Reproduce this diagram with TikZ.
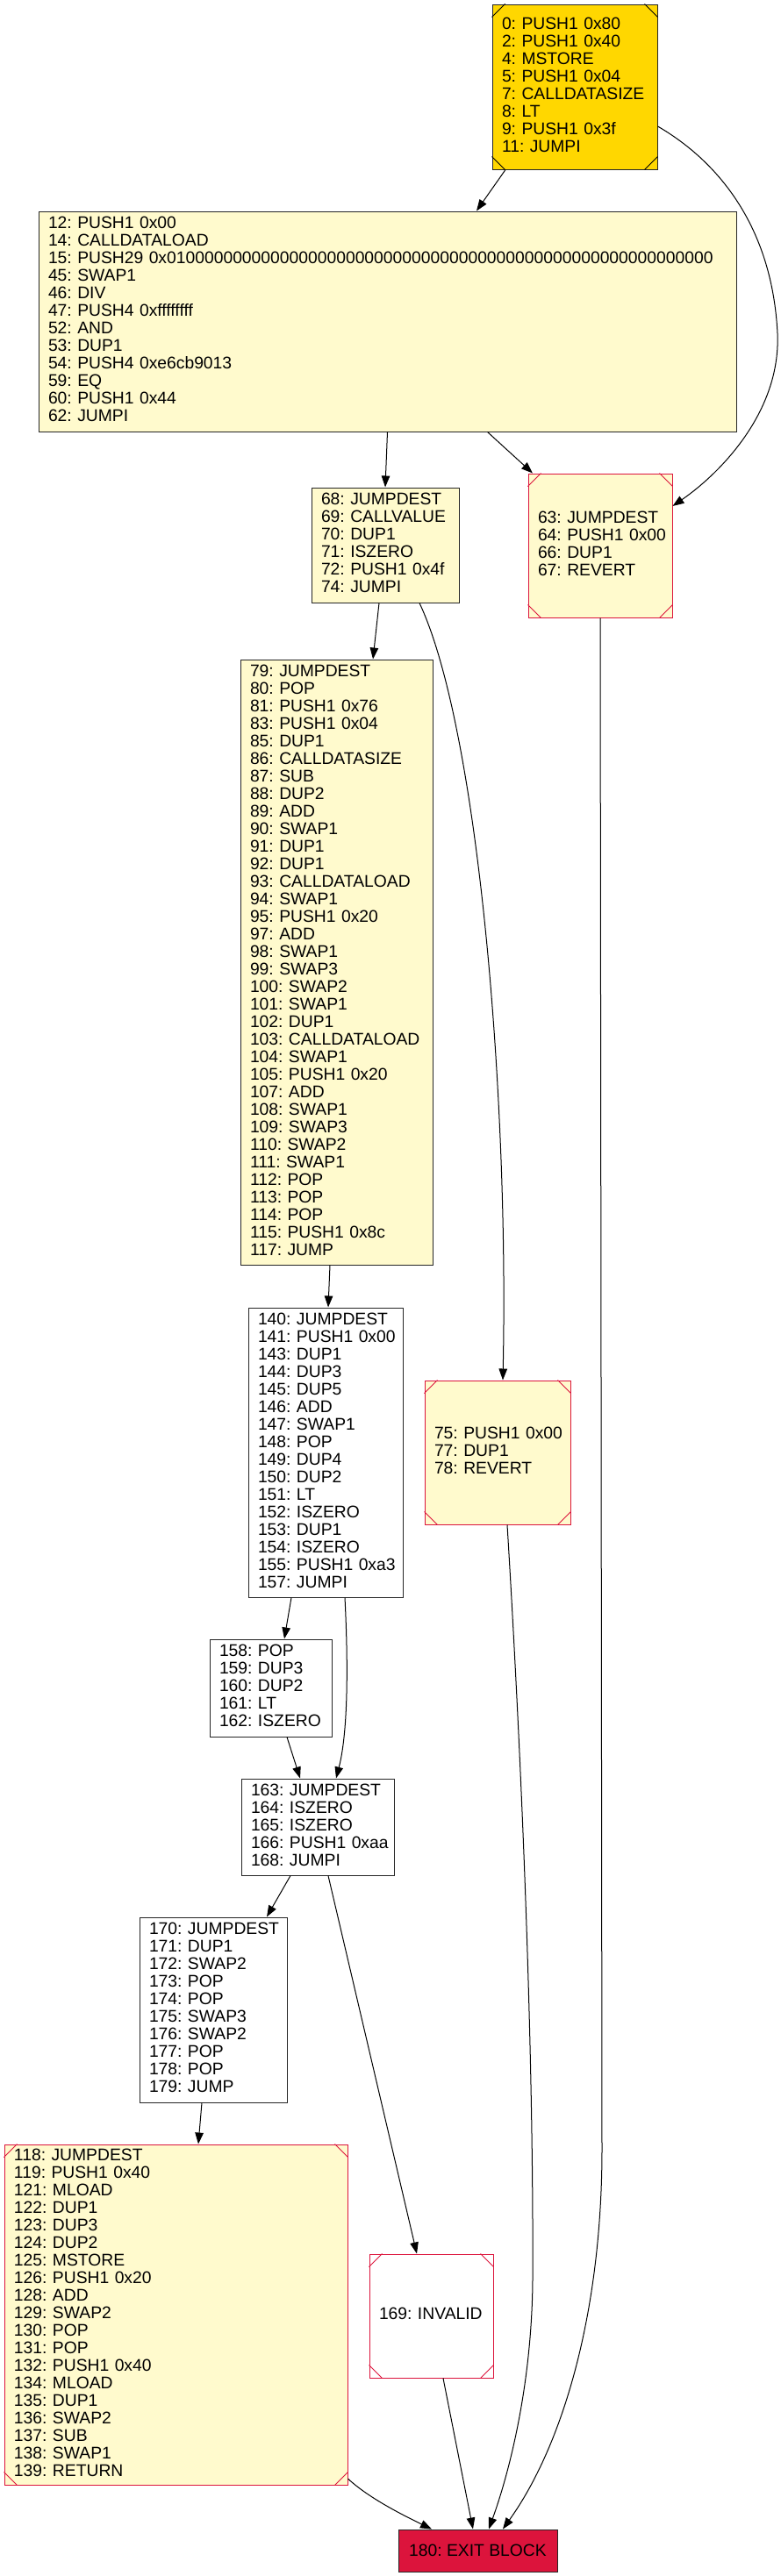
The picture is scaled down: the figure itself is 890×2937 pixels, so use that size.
\documentclass[tikz,border=0pt]{standalone}
\usepackage{fontspec}
\setmainfont{Liberation Sans}
\usetikzlibrary{arrows.meta,calc}
\definecolor{lemon}{HTML}{FFFACD}
\definecolor{goldc}{HTML}{FFD700}
\definecolor{crim}{HTML}{DC143C}
\frenchspacing
\newcommand\msqcorners[2]{%
  \draw[#2,line width=1pt] ($(#1.north west)+(15,0)$) -- ($(#1.north west)+(0,15)$);
  \draw[#2,line width=1pt] ($(#1.north east)+(-15,0)$) -- ($(#1.north east)+(0,15)$);
  \draw[#2,line width=1pt] ($(#1.south west)+(15,0)$) -- ($(#1.south west)+(0,-15)$);
  \draw[#2,line width=1pt] ($(#1.south east)+(-15,0)$) -- ($(#1.south east)+(0,-15)$);
}
\newcommand\lines[1]{\begin{tabular}{@{}l@{}}#1\end{tabular}}
\begin{document}
\begin{tikzpicture}[x=1pt,y=-1pt,
  blk/.style={draw=black!85, line width=1pt, fill=white, align=left,
    inner xsep=11pt, inner ysep=0pt, anchor=center,
    font=\fontsize{19.3}{20}\selectfont\frenchspacing},
  redblk/.style={blk, draw=crim},
  edge/.style={draw=black, line width=1pt, -{Triangle[length=13pt,width=9.5pt]}}]
\useasboundingbox (0,0) rectangle (890,2937);
\fill[white] (0,0) rectangle (890,2937);

\node[blk, fill=goldc, text width=166pt, minimum height=188pt] (b0) at (655,99)
 {\lines{0: PUSH1 0x80\\2: PUSH1 0x40\\4: MSTORE\\5: PUSH1 0x04\\7: CALLDATASIZE\\8: LT\\9: PUSH1 0x3f\\11: JUMPI}};
\msqcorners{b0}{black}

\node[blk, fill=lemon, text width=773pt, minimum height=251pt] (b12) at (441.5,366.5)
 {\lines{12: PUSH1 0x00\\14: CALLDATALOAD\\15: PUSH29 0x0100000000000000000000000000000000000000000000000000000000\\45: SWAP1\\46: DIV\\47: PUSH4 0xffffffff\\52: AND\\53: DUP1\\54: PUSH4 0xe6cb9013\\59: EQ\\60: PUSH1 0x44\\62: JUMPI}};

\node[blk, fill=lemon, text width=146pt, minimum height=131pt] (b68) at (439,621.5)
 {\lines{68: JUMPDEST\\69: CALLVALUE\\70: DUP1\\71: ISZERO\\72: PUSH1 0x4f\\74: JUMPI}};

\node[redblk, fill=lemon, text width=142pt, minimum height=164pt] (b63) at (684,622)
 {\lines{63: JUMPDEST\\64: PUSH1 0x00\\66: DUP1\\67: REVERT}};
\msqcorners{b63}{crim}

\node[blk, fill=lemon, text width=197pt, minimum height=690pt] (b79) at (383.5,1097)
 {\lines{79: JUMPDEST\\80: POP\\81: PUSH1 0x76\\83: PUSH1 0x04\\85: DUP1\\86: CALLDATASIZE\\87: SUB\\88: DUP2\\89: ADD\\90: SWAP1\\91: DUP1\\92: DUP1\\93: CALLDATALOAD\\94: SWAP1\\95: PUSH1 0x20\\97: ADD\\98: SWAP1\\99: SWAP3\\100: SWAP2\\101: SWAP1\\102: DUP1\\103: CALLDATALOAD\\104: SWAP1\\105: PUSH1 0x20\\107: ADD\\108: SWAP1\\109: SWAP3\\110: SWAP2\\111: SWAP1\\112: POP\\113: POP\\114: POP\\115: PUSH1 0x8c\\117: JUMP}};

\node[blk, text width=154pt, minimum height=330pt] (b140) at (371,1656)
 {\lines{140: JUMPDEST\\141: PUSH1 0x00\\143: DUP1\\144: DUP3\\145: DUP5\\146: ADD\\147: SWAP1\\148: POP\\149: DUP4\\150: DUP2\\151: LT\\152: ISZERO\\153: DUP1\\154: ISZERO\\155: PUSH1 0xa3\\157: JUMPI}};

\node[redblk, fill=lemon, text width=144pt, minimum height=164pt] (b75) at (567,1656)
 {\lines{75: PUSH1 0x00\\77: DUP1\\78: REVERT}};
\msqcorners{b75}{crim}

\node[blk, text width=117pt, minimum height=111pt] (b158) at (308.5,1924.5)
 {\lines{158: POP\\159: DUP3\\160: DUP2\\161: LT\\162: ISZERO}};

\node[blk, text width=152pt, minimum height=110pt] (b163) at (362,2083)
 {\lines{163: JUMPDEST\\164: ISZERO\\165: ISZERO\\166: PUSH1 0xaa\\168: JUMPI}};

\node[blk, text width=146pt, minimum height=211pt] (b170) at (243,2291.5)
 {\lines{170: JUMPDEST\\171: DUP1\\172: SWAP2\\173: POP\\174: POP\\175: SWAP3\\176: SWAP2\\177: POP\\178: POP\\179: JUMP}};

\node[redblk, fill=lemon, text width=369pt, minimum height=388pt] (b118) at (200.5,2639)
 {\lines{118: JUMPDEST\\119: PUSH1 0x40\\121: MLOAD\\122: DUP1\\123: DUP3\\124: DUP2\\125: MSTORE\\126: PUSH1 0x20\\128: ADD\\129: SWAP2\\130: POP\\131: POP\\132: PUSH1 0x40\\134: MLOAD\\135: DUP1\\136: SWAP2\\137: SUB\\138: SWAP1\\139: RETURN}};
\msqcorners{b118}{crim}

\node[redblk, text width=119pt, minimum height=141pt] (b169) at (491.5,2640.5)
 {\lines{169: INVALID}};
\msqcorners{b169}{crim}

\node[blk, fill=crim, align=center, inner xsep=0pt, minimum width=181pt, minimum height=48pt] (b180) at (544.5,2908)
 {180: EXIT BLOCK};

% edges
\draw[edge] ($(b0.south)+(-79,0)$) -- ($(b12.north)+(101.5,0)$);
\draw[edge] ($(b0.east)+(0,45)$) .. controls (820,185) and (880,260) .. (886,380)
   .. controls (890,470) and (820,540) .. ($(b63.east)+(0,-45)$);
\draw[edge] (b12.south) -- (b68.north);
\draw[edge] ($(b12.south)+(114,0)$) -- ($(b63.north)+(-77,0)$);
\draw[edge] ($(b68.south)+(-7,0)$) -- ($(b79.north)+(41.5,0)$);
\draw[edge] ($(b68.south)+(39,0)$) .. controls (545,830) and (580,1250) .. ($(b75.north)+(6,0)$);
\draw[edge] (b63.south) -- (686,2450) .. controls (686,2640) and (640,2790) .. ($(b180.north)+(28.5,0)$);
\draw[edge] ($(b75.south)+(11,0)$) .. controls (600,2100) and (608,2400) .. (607,2600)
   .. controls (606,2720) and (580,2820) .. ($(b180.north)+(12.5,0)$);
\draw[edge] ($(b79.south)+(-7.5,0)$) -- ($(b140.north)+(3,0)$);
\draw[edge] ($(b140.south)+(-39,0)$) -- ($(b158.north)+(15.5,0)$);
\draw[edge] ($(b140.south)+(22,0)$) .. controls (396,1880) and (398,1970) .. ($(b163.north)+(21,0)$);
\draw[edge] ($(b158.south)+(18.5,0)$) -- ($(b163.north)+(-20,0)$);
\draw[edge] ($(b163.south)+(-31,0)$) -- ($(b170.north)+(61,0)$);
\draw[edge] ($(b163.south)+(12,0)$) -- ($(b169.north)+(-16.5,0)$);
\draw[edge] ($(b170.south)+(-13,0)$) -- ($(b118.north)+(25.5,0)$);
\draw[edge] ($(b118.east)+(0,187)$) .. controls (420,2848) and (460,2868) .. ($(b180.north)+(-52.5,0)$);
\draw[edge] ($(b169.south)+(13.5,0)$) -- ($(b180.north)+(-5.5,0)$);
\end{tikzpicture}
\end{document}
